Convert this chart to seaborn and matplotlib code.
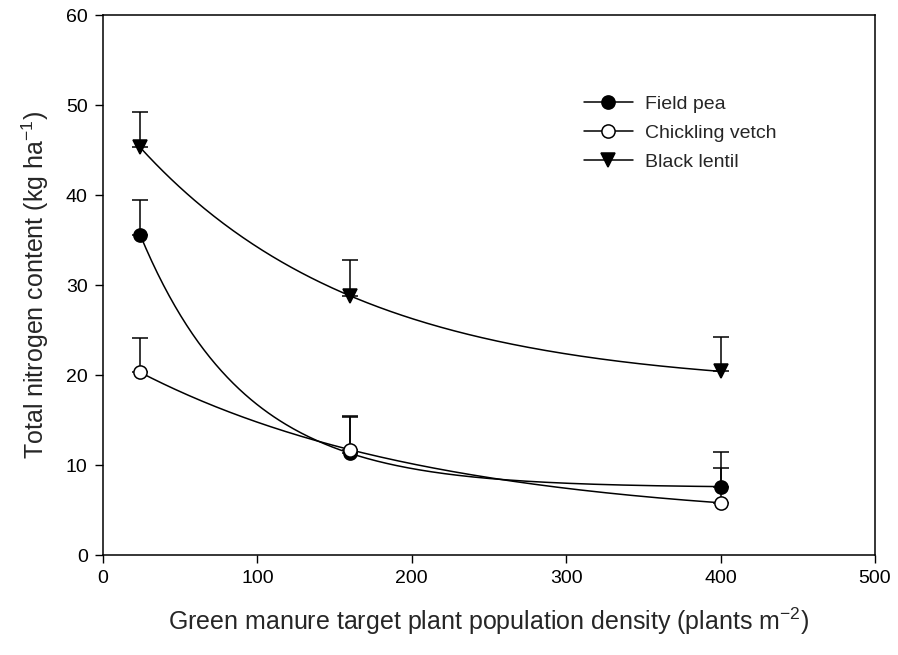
import numpy as np
import pandas as pd
import matplotlib
matplotlib.use("Agg")
import matplotlib.pyplot as plt
from matplotlib.lines import Line2D
import seaborn as sns

# Target plant population densities (plants m^-2)
density = [24, 160, 400]

# Total nitrogen content (kg ha^-1) and upper standard errors
field_pea = [35.6, 11.3, 7.6]
field_pea_se = [3.9, 4.2, 3.9]
chickling_vetch = [20.3, 11.7, 5.8]
chickling_vetch_se = [3.8, 3.6, 3.9]
black_lentil = [45.3, 28.8, 20.4]
black_lentil_se = [3.9, 4.0, 3.8]

series_names = ["Field pea", "Chickling vetch", "Black lentil"]


def fit_exp_decay(x, y):
    """Exact fit of y = a + b*exp(-c*x) through three points."""
    x = np.asarray(x, float)
    y = np.asarray(y, float)
    target = (y[0] - y[1]) / (y[1] - y[2])

    def ratio(c):
        e = np.exp(-c * x)
        return (e[0] - e[1]) / (e[1] - e[2])

    lo, hi = 1e-6, 1.0
    for _ in range(200):
        mid = 0.5 * (lo + hi)
        if ratio(mid) < target:
            lo = mid
        else:
            hi = mid
    c = 0.5 * (lo + hi)
    e = np.exp(-c * x)
    b = (y[0] - y[1]) / (e[0] - e[1])
    a = y[0] - b * e[0]
    return a, b, c


sns.set_theme(style="ticks")
plt.rcParams["font.family"] = ["Liberation Sans", "DejaVu Sans"]
plt.rcParams["mathtext.fontset"] = "custom"
plt.rcParams["mathtext.rm"] = "Liberation Sans"
plt.rcParams["mathtext.it"] = "Liberation Sans"

fig = plt.figure(figsize=(8.98, 6.55), dpi=100)
ax = fig.add_axes([103 / 898, 1 - 555 / 655, (875 - 103) / 898, (555 - 15) / 655])

values = [field_pea, chickling_vetch, black_lentil]
errors = [field_pea_se, chickling_vetch_se, black_lentil_se]
markers = ["o", "o", "v"]
faces = ["black", "white", "black"]
msizes = [9.5, 9.5, 10.5]

# Fitted decay curves
curve_frames = []
xs = np.linspace(min(density), max(density), 300)
for name, vals in zip(series_names, values):
    a, b, c = fit_exp_decay(density, vals)
    curve_frames.append(pd.DataFrame({"density": xs, "N": a + b * np.exp(-c * xs), "crop": name}))
curves = pd.concat(curve_frames, ignore_index=True)
sns.lineplot(data=curves, x="density", y="N", hue="crop", palette=["black"] * 3,
             linewidth=1.1, legend=False, ax=ax, zorder=2)

# Upper error bars and markers
for name, vals, errs, mk, fc, ms in zip(series_names, values, errors, markers, faces, msizes):
    ax.errorbar(density, vals, yerr=[np.zeros(len(errs)), errs], fmt="none",
                ecolor="black", elinewidth=1.1, capsize=6, capthick=1.1, zorder=3)
    ax.plot(density, vals, linestyle="none", marker=mk, markersize=ms,
            markerfacecolor=fc, markeredgecolor="black", markeredgewidth=1.1, zorder=4)

ax.set_xlim(0, 500)
ax.set_ylim(0, 60)
ax.set_xticks(range(0, 501, 100))
ax.set_yticks(range(0, 61, 10))
ax.tick_params(axis="both", direction="out", length=6, width=1, labelsize=14,
               colors="black", pad=5)
ax.tick_params(top=False, right=False)
for side in ["left", "bottom", "top", "right"]:
    ax.spines[side].set_visible(True)
    ax.spines[side].set_linewidth(1.1)
    ax.spines[side].set_color("black")

ax.set_xlabel("Green manure target plant population density (plants m$^{-2}$)",
              fontsize=18, labelpad=13)
ax.set_ylabel("Total nitrogen content (kg ha$^{-1}$)", fontsize=18, labelpad=11)

handles = [Line2D([0], [0], color="black", linewidth=1.1, marker=mk, markersize=ms,
                  markerfacecolor=fc, markeredgecolor="black", markeredgewidth=1.1)
           for mk, fc, ms in zip(markers, faces, msizes)]
ax.legend(handles, series_names, loc="upper left", bbox_to_anchor=(0.613, 0.866),
          frameon=False, fontsize=14, handlelength=2.5, handletextpad=0.65,
          labelspacing=0.6, borderaxespad=0)

fig.savefig("out.png", dpi=100)
